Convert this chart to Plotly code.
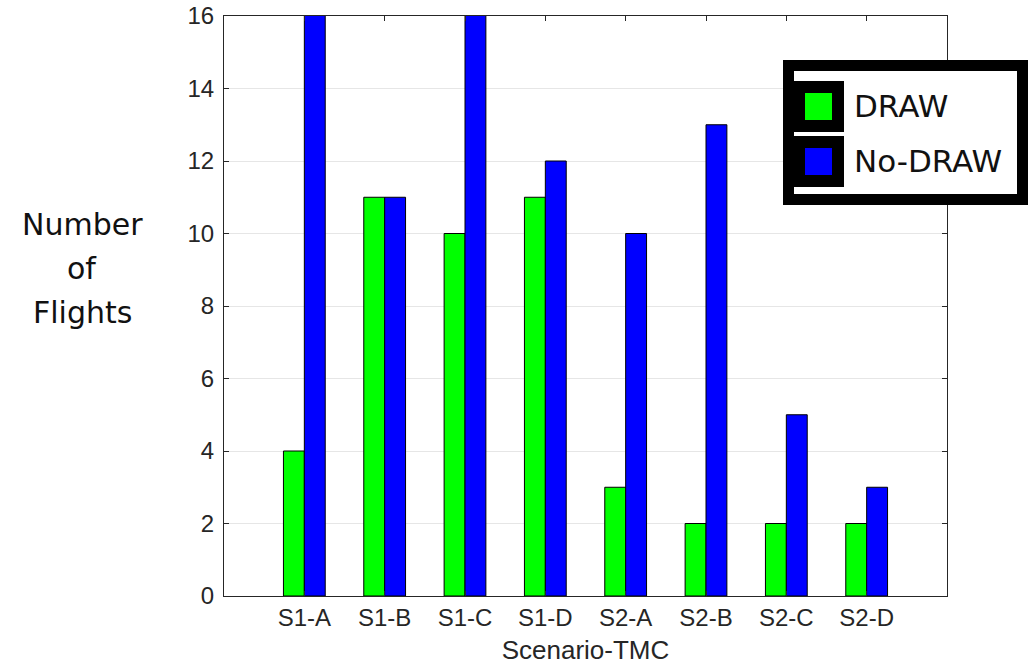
import plotly.graph_objects as go

categories = ["S1-A", "S1-B", "S1-C", "S1-D", "S2-A", "S2-B", "S2-C", "S2-D"]
draw_values = [4, 11, 10, 11, 3, 2, 2, 2]
nodraw_values = [17, 11, 17, 12, 10, 13, 5, 3]
series_names = ["DRAW", "No-DRAW"]
series_colors = ["#00ff00", "#0000ff"]
y_ticks = [0, 2, 4, 6, 8, 10, 12, 14, 16]
y_label_lines = ["Number", "of", "Flights"]

W, H = 1030, 665
L, R, T, B = 224, 947, 16, 596


def px(x):
    return (x - L) / (R - L)


def py(y):
    return (B - y) / (B - T)


fig = go.Figure()
for name, vals, col in zip(series_names, [draw_values, nodraw_values], series_colors):
    fig.add_trace(go.Bar(
        x=categories, y=vals, name=name,
        marker=dict(color=col, line=dict(color="black", width=1)),
        showlegend=False,
    ))

axis_col = "#262626"
tick_family = "Liberation Sans, Arial, sans-serif"
tick_font = dict(family=tick_family, size=24, color=axis_col)

fig.update_layout(
    width=W, height=H,
    margin=dict(l=L, r=W - R, t=T, b=H - B, autoexpand=False),
    paper_bgcolor="white", plot_bgcolor="white",
    barmode="group", bargap=0.48, bargroupgap=0,
    xaxis=dict(
        range=[-1, 8], showline=True, linecolor=axis_col, linewidth=1, mirror="ticks",
        ticks="inside", ticklen=5, tickcolor=axis_col, showgrid=False,
        tickfont=tick_font, automargin=False,
        title=dict(text="Scenario-TMC", font=dict(family=tick_family, size=26, color=axis_col), standoff=13),
    ),
    yaxis=dict(
        range=[0, 16], showline=True, linecolor=axis_col, linewidth=1, mirror="ticks",
        ticks="inside", ticklen=5, tickcolor=axis_col, tickvals=y_ticks,
        showgrid=True, gridcolor="#e6e6e6", gridwidth=1, zeroline=False,
        tickfont=tick_font, automargin=False, ticklabelstandoff=4,
    ),
)

# y label, one line per annotation to match line spacing
for line, yc in zip(y_label_lines, [224, 268, 312]):
    fig.add_annotation(
        x=px(82), xref="paper", y=py(yc), yref="paper", showarrow=False,
        xanchor="center", yanchor="middle", text=line,
        font=dict(family="DejaVu Sans, sans-serif", size=30, color="#111111"),
    )

# legend box (manual)
shapes = []
shapes.append(dict(type="rect", xref="paper", yref="paper",
                   x0=px(783), x1=px(1028), y0=py(205), y1=py(60),
                   fillcolor="black", line=dict(width=0), layer="above"))
shapes.append(dict(type="rect", xref="paper", yref="paper",
                   x0=px(794), x1=px(1017), y0=py(194), y1=py(71),
                   fillcolor="white", line=dict(width=0), layer="above"))
legend_rows = [(82, 131), (137, 186)]
for (top, bot), name, col in zip(legend_rows, series_names, series_colors):
    shapes.append(dict(type="rect", xref="paper", yref="paper",
                       x0=px(794), x1=px(843), y0=py(bot), y1=py(top),
                       fillcolor="black", line=dict(color="black", width=2), layer="above"))
    shapes.append(dict(type="rect", xref="paper", yref="paper",
                       x0=px(805), x1=px(832), y0=py(bot - 11), y1=py(top + 11),
                       fillcolor=col, line=dict(width=0), layer="above"))
    fig.add_annotation(x=px(852), y=py((top + bot) / 2), xref="paper", yref="paper",
                       xanchor="left", yanchor="middle", showarrow=False, text=name,
                       font=dict(family="DejaVu Sans, sans-serif", size=31, color="#111111"))
fig.update_layout(shapes=shapes)

fig.write_html("out.html", config={"displayModeBar": False},
               post_script="document.body.style.margin='0px';")
